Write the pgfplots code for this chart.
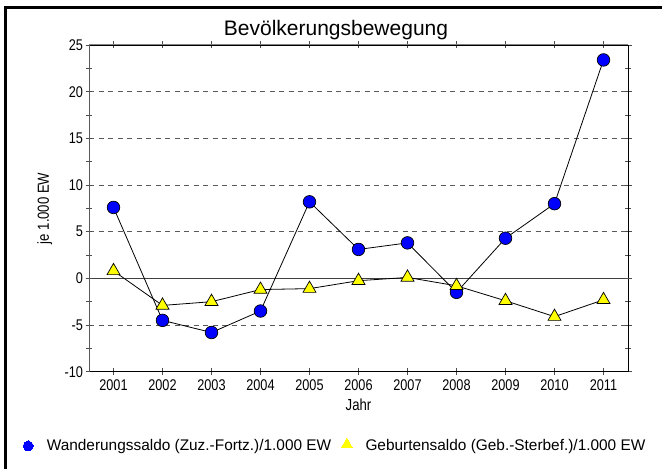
\documentclass[border=0pt]{standalone}
\usepackage{fontspec}
\setmainfont{Liberation Sans}
\newfontfamily\narrowfont[FakeStretch=0.82]{Liberation Sans}
\usepackage{pgfplots}
\pgfplotsset{compat=1.18}

\definecolor{markblue}{RGB}{0,0,255}
\definecolor{markyellow}{RGB}{255,255,0}
\definecolor{gridgray}{RGB}{90,90,90}

\begin{document}
\begin{tikzpicture}[x=1pt,y=1pt]
  \path[use as bounding box, fill=white] (0,0) rectangle (662,469);
  \draw[line width=3pt] (5.5,0) -- (5.5,461.5) -- (662,461.5);
  \node[font=\fontsize{21}{23}\selectfont] at (336,439) {Bevölkerungsbewegung};

  \begin{axis}[
      at={(89pt,97.3pt)}, anchor=south west,
      width=539pt, height=326.7pt, scale only axis,
      xmin=2000.5, xmax=2011.5,
      ymin=-10, ymax=25,
      xtick={2001,...,2011},
      ytick={-10,-5,...,25},
      minor y tick num=1,
      tick align=center,
      major tick length=7pt,
      minor tick length=6pt,
      tick style={black!70, line width=0.8pt},
      /pgf/number format/assume math mode=true,
      /pgf/number format/1000 sep={},
      ticklabel style={font=\narrowfont\fontsize{15.5}{17}\selectfont},
      x tick label style={yshift=-1pt},
      y tick label style={xshift=1pt},
      xlabel={Jahr},
      ylabel={je 1.000 EW},
      every axis x label/.style={at={(axis description cs:0.5,-0.101)}, anchor=center,
        font=\narrowfont\fontsize{16}{18}\selectfont},
      every axis y label/.style={at={(axis description cs:-0.082,0.5)}, rotate=90, anchor=center,
        font=\narrowfont\fontsize{16}{18}\selectfont},
      axis line style={black, line width=0.9pt},
      ymajorgrids,
      major grid style={gridgray, dashed, dash pattern=on 5pt off 4.5pt, line width=0.8pt},
      extra y ticks={0},
      extra y tick labels={},
      extra y tick style={major grid style={solid, black!75, line width=1pt}},
      legend columns=2,
      legend cell align=left,
      legend style={at={(axis description cs:0.457,-0.2274)}, anchor=center,
        draw=none, fill=none, font=\fontsize{15.4}{18}\selectfont,
        /tikz/every even column/.append style={column sep=8pt}},
      clip=false,
    ]
    \addplot[black, line width=0.8pt, mark=*, mark size=6.3pt,
      mark options={fill=markblue, draw=black, line width=0.7pt},
      legend image code/.code={\path (0cm,0cm) (0.72cm,0cm);
        \draw[only marks, mark=*, mark size=5pt,
        mark options={draw=markblue, fill=markblue, line width=0pt}] plot coordinates {(0.15cm,0cm)};}]
      coordinates {
        (2001,7.6) (2002,-4.5) (2003,-5.8) (2004,-3.5) (2005,8.2) (2006,3.1)
        (2007,3.8) (2008,-1.5) (2009,4.3) (2010,8.0) (2011,23.4)
      };
    \addlegendentry{Wanderungssaldo (Zuz.-Fortz.)/1.000 EW}
    \addplot[black, line width=0.8pt, mark=triangle*, mark size=7.5pt,
      mark options={fill=markyellow, draw=black, line width=0.7pt},
      legend image code/.code={\path (0cm,0cm) (0.72cm,0cm);
        \draw[only marks, mark=triangle*, mark size=6.5pt,
        mark options={draw=markyellow, fill=markyellow, line width=0pt}] plot coordinates {(0.15cm,0.05cm)};}]
      coordinates {
        (2001,0.8) (2002,-2.9) (2003,-2.5) (2004,-1.2) (2005,-1.1) (2006,-0.25)
        (2007,0.1) (2008,-0.8) (2009,-2.4) (2010,-4.1) (2011,-2.3)
      };
    \addlegendentry{Geburtensaldo (Geb.-Sterbef.)/1.000 EW}
    \draw[gray, line width=1pt] (rel axis cs:0,1) -- (rel axis cs:1,1);
    \draw[black!65, line width=1pt] (rel axis cs:0,0) -- (rel axis cs:0,1);
  \end{axis}
\end{tikzpicture}
\end{document}
